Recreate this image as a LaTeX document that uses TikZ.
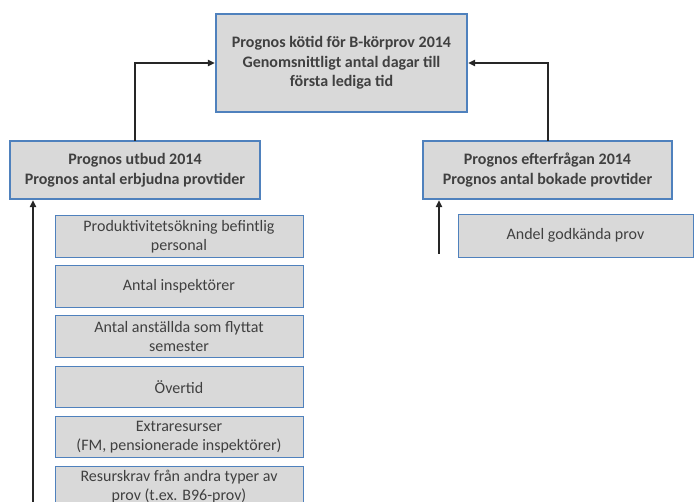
\documentclass[tikz,border=0pt]{standalone}
\usepackage{fontspec}
\setmainfont{Carlito}
\usetikzlibrary{arrows.meta}
\definecolor{boxfill}{HTML}{D9D9D9}
\definecolor{boxline}{HTML}{4F81BD}
\definecolor{txt}{HTML}{404040}
\tikzset{
  mainbox/.style={draw=boxline, line width=2.4pt, fill=boxfill, text=txt, font=\fontsize{16}{19.5}\selectfont\bfseries, align=center, inner sep=0pt, anchor=center},
  factorbox/.style={draw=boxline, line width=0.9pt, fill=boxfill, text=txt, font=\fontsize{16}{19}\selectfont, align=center, inner sep=0pt, minimum width=248pt, minimum height=41.5pt, anchor=center},
  conn/.style={line width=1.2pt, black!85, -{Triangle[length=7pt,width=6.5pt]}}
}
\begin{document}
\begin{tikzpicture}[x=1pt,y=-1pt]
\useasboundingbox (0,0) rectangle (695,502);
\clip (0,0) rectangle (695,502);
\node[mainbox, minimum width=251pt, minimum height=98pt] (top) at (341.5,63) {Prognos kötid för B-körprov 2014\\Genomsnittligt antal dagar till\\första lediga tid};
\node[mainbox, minimum width=250pt, minimum height=58pt] (utbud) at (135,170) {Prognos utbud 2014\\Prognos antal erbjudna provtider};
\node[mainbox, minimum width=249pt, minimum height=58pt] (efter) at (547.5,170) {Prognos efterfrågan 2014\\Prognos antal bokade provtider};
\node[factorbox, minimum width=235pt, minimum height=43pt] (andel) at (575.5,235.5) {Andel godkända prov};
\node[factorbox] (f1) at (179,236.5) {Produktivitetsökning befintlig\\personal};
\node[factorbox] (f2) at (179,286.5) {Antal inspektörer};
\node[factorbox] (f3) at (179,336.5) {Antal anställda som flyttat\\semester};
\node[factorbox] (f4) at (179,387) {Övertid};
\node[factorbox] (f5) at (179,437) {Extraresurser\\(FM, pensionerade inspektörer)};
\node[factorbox] (f6) at (179,487) {Resurskrav från andra typer av\\prov (t.ex. B96-prov)};
\coordinate (ut0) at (135,141);
\coordinate (ef0) at (548,141);
\draw[conn] (ut0) |- (top.west);
\draw[conn] (ef0) |- (top.east);
\coordinate (ls) at (33,505);
\coordinate (rs) at (439,254);
\draw[conn] (ls) -- (ls |- utbud.south);
\draw[conn] (rs) -- (rs |- efter.south);
\end{tikzpicture}
\end{document}
